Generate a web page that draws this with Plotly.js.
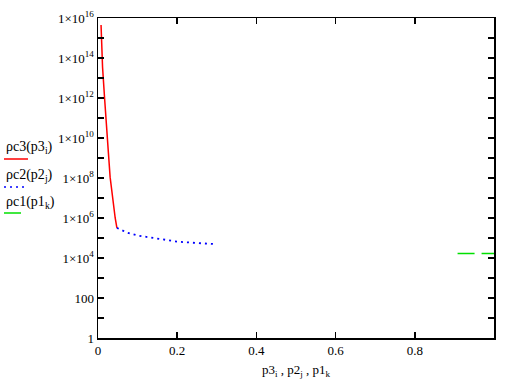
<!DOCTYPE html>
<html>
<head>
<meta charset="utf-8">
<script src="https://cdn.plot.ly/plotly-3.0.1.min.js"></script>
<style>html,body{margin:0;padding:0;background:#fff;}#chart{width:511px;height:379px;}</style>
</head>
<body>
<div id="chart"></div>
<script>
// Series 3 (red, solid)
var p3 = [0.0077, 0.0115, 0.0166, 0.0222, 0.0263, 0.0306, 0.0349, 0.039, 0.0434, 0.0477];
var rc3 = [4.5e15, 3.5e13, 1.0e12, 1.1e10, 1.8e9, 1.1e8, 2.0e7, 3.5e6, 1.0e6, 3.2e5];
// Series 2 (blue, dotted)
var p2 = [0.0477, 0.075, 0.1, 0.12, 0.15, 0.2, 0.25, 0.3];
var rc2 = [3.2e5, 1.8e5, 1.33e5, 1.17e5, 9.4e4, 6.6e4, 5.6e4, 4.9e4];
// Series 1 (green, dashed)
var p1 = [0.908, 0.95, 1.0];
var rc1 = [1.7e4, 1.7e4, 1.7e4];

var xTickVals = [0, 0.2, 0.4, 0.6, 0.8];
var xTickText = ['0', '0.2', '0.4', '0.6', '0.8'];
var yTickVals = [1, 1e2, 1e4, 1e6, 1e8, 1e10, 1e12, 1e14, 1e16];
var yTickText = ['1', '100', '1×10<sup>4</sup>', '1×10<sup>6</sup>', '1×10<sup>8</sup>',
  '1×10<sup>10</sup>', '1×10<sup>12</sup>', '1×10<sup>14</sup>', '1×10<sup>16</sup>'];
var yMinorVals = [1e1, 1e3, 1e5, 1e7, 1e9, 1e11, 1e13, 1e15];
var legendLabels = ['ρc3(p3<sub>i</sub>)', 'ρc2(p2<sub>j</sub>)', 'ρc1(p1<sub>k</sub>)'];
var legendColors = ['#ff0000', '#0000ff', '#00e000'];

var font = {family: '"Liberation Serif", "Times New Roman", serif', size: 13, color: '#000'};
var legendFont = {family: '"Liberation Serif", "Times New Roman", serif', size: 14, color: '#000'};

var traces = [
  {x: p3, y: rc3, mode: 'lines', line: {color: legendColors[0], width: 1.5}, hoverinfo: 'none'},
  {x: p2, y: rc2, mode: 'lines', line: {color: legendColors[1], width: 1.8, dash: '2px,4px'}, hoverinfo: 'none'},
  {x: p1, y: rc1, mode: 'lines', line: {color: legendColors[2], width: 1.5, dash: '17px,7px'}, hoverinfo: 'none'}
];

var W = 511, H = 379, L = 98, R = 17, T = 18, B = 41;
var pw = W - L - R, ph = H - T - B;
function px2x(px) { return (px - L) / pw; }
function py2y(py) { return (H - B - py) / ph; }

var annotations = [];
var shapes = [];
var legendTextY = [147, 175, 202];
var legendLineY = [159, 187, 213];
var legendLineEnd = [28, 24, 21];
var legendLineDash = ['solid', '2px,4px', 'solid'];
for (var i = 0; i < 3; i++) {
  annotations.push({xref: 'paper', yref: 'paper', x: px2x(4), y: py2y(legendTextY[i]),
    xanchor: 'left', yanchor: 'middle', text: legendLabels[i], showarrow: false, font: legendFont});
  shapes.push({type: 'line', xref: 'paper', yref: 'paper', x0: px2x(4), x1: px2x(legendLineEnd[i]),
    y0: py2y(legendLineY[i]), y1: py2y(legendLineY[i]),
    line: {color: legendColors[i], width: 1.5, dash: legendLineDash[i]}});
}

var layout = {
  width: W, height: H,
  margin: {l: L, r: R, t: T, b: B, pad: 0},
  paper_bgcolor: '#fff', plot_bgcolor: '#fff',
  showlegend: false,
  font: font,
  xaxis: {
    range: [0, 1], tickvals: xTickVals, ticktext: xTickText,
    ticks: 'inside', ticklen: 6, tickwidth: 1.5, tickcolor: '#000',
    showline: true, linecolor: '#000', linewidth: 1.5, mirror: 'ticks',
    showgrid: false, zeroline: false, tickfont: font,
    title: {text: 'p3<sub>i</sub> , p2<sub>j</sub> , p1<sub>k</sub>', font: font, standoff: 10}
  },
  yaxis: {
    type: 'log', range: [0, 16], tickvals: yTickVals, ticktext: yTickText,
    ticks: 'inside', ticklen: 6, tickwidth: 1.5, tickcolor: '#000',
    minor: {tickvals: yMinorVals, ticks: 'inside', ticklen: 6, tickwidth: 1.5, tickcolor: '#000', showgrid: false},
    showline: true, linecolor: '#000', linewidth: 1.5, mirror: 'ticks',
    showgrid: false, zeroline: false, tickfont: font
  },
  annotations: annotations,
  shapes: shapes
};

Plotly.newPlot('chart', traces, layout, {staticPlot: true, displayModeBar: false});
</script>
</body>
</html>
